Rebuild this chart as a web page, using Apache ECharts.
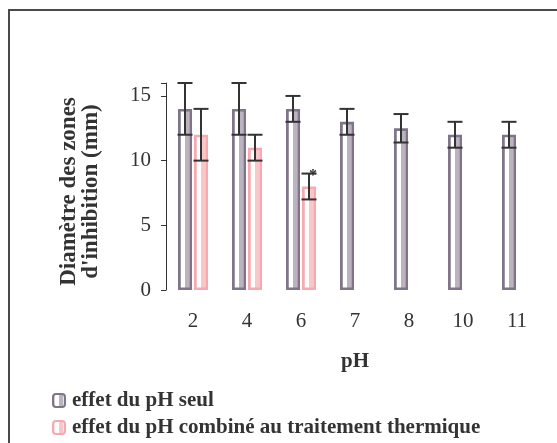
<!DOCTYPE html>
<html>
<head>
<meta charset="utf-8">
<script src="https://cdn.jsdelivr.net/npm/echarts@6/dist/echarts.min.js"></script>
<style>html,body{margin:0;padding:0;background:#fff;}#c{width:557px;height:443px;}</style>
</head>
<body>
<div id="c"></div>
<script>
var categories = ['2', '4', '6', '7', '8', '10', '11'];
var phAlone = [14, 14, 14, 13, 12.5, 12, 12];
var phAloneErr = [2, 2, 1, 1, 1.1, 1, 1];
var phHeat = [12, 11, 8, null, null, null, null];
var phHeatErr = [2, 1, 1, null, null, null, null];
var phHeatMark = ['', '', '*', '', '', '', ''];
var seriesNames = ['effet du pH seul', 'effet du pH combiné au traitement thermique'];
var yTicks = [0, 5, 10, 15];

var serif = '"Liberation Serif", "Times New Roman", serif';

function stripe(c1, c2, c3) {
  return {
    type: 'linear', x: 0, y: 0, x2: 1, y2: 0,
    colorStops: [
      {offset: 0, color: c1}, {offset: 0.22, color: c1},
      {offset: 0.22, color: '#ffffff'}, {offset: 0.5, color: '#ffffff'},
      {offset: 0.5, color: c2}, {offset: 0.78, color: c2},
      {offset: 0.78, color: c3}, {offset: 1, color: c3}
    ]
  };
}

function errData(vals, errs, marks) {
  var out = [];
  for (var i = 0; i < vals.length; i++) {
    if (vals[i] == null) continue;
    out.push([i, vals[i], errs[i], marks ? marks[i] : '']);
  }
  return out;
}

function errRender(offset) {
  return function (params, api) {
    var i = api.value(0), v = api.value(1), e = api.value(2);
    var hi = api.coord([i, v + e]);
    var lo = api.coord([i, v - e]);
    var x = hi[0] + offset;
    var cap = 7.5;
    var st = {stroke: '#333', lineWidth: 2};
    var children = [
      {type: 'line', shape: {x1: x, y1: hi[1], x2: x, y2: lo[1]}, style: st},
      {type: 'line', shape: {x1: x - cap, y1: hi[1], x2: x + cap, y2: hi[1]}, style: st},
      {type: 'line', shape: {x1: x - cap, y1: lo[1], x2: x + cap, y2: lo[1]}, style: st}
    ];
    var mark = api.value(3);
    if (mark) {
      children.push({type: 'text', x: x + 4, y: hi[1] + 2,
        style: {text: mark, font: 'bold 16px ' + serif, fill: '#333', align: 'center', verticalAlign: 'middle'}});
    }
    return {type: 'group', children: children};
  };
}

var legendText = {fontFamily: serif, fontWeight: 'bold', fontSize: 21, color: '#333', padding: [0, 0, 0, 2]};

var chart = echarts.init(document.getElementById('c'));
chart.setOption({
  animation: false,
  backgroundColor: '#fff',
  graphic: [{
    type: 'rect', shape: {x: 9, y: 10, width: 700, height: 600},
    style: {fill: 'none', stroke: '#4a4a4a', lineWidth: 2}, z: 100
  }],
  grid: {left: 166, right: 13, top: 83, bottom: 153},
  legend: [
    {left: 52, top: 390, itemWidth: 12, itemHeight: 13, padding: 0, itemGap: 0,
      data: [seriesNames[0]], textStyle: legendText},
    {left: 52, top: 417, itemWidth: 12, itemHeight: 13, padding: 0, itemGap: 0,
      data: [seriesNames[1]], textStyle: legendText}
  ],
  xAxis: {
    type: 'category', data: categories,
    name: 'pH', nameLocation: 'middle', nameGap: 61,
    nameTextStyle: {fontFamily: serif, fontWeight: 'bold', fontSize: 21, color: '#333'},
    axisLine: {show: false}, axisTick: {show: false},
    axisLabel: {fontFamily: serif, fontSize: 21, color: '#333', margin: 21}
  },
  yAxis: {
    type: 'value', min: 0, max: 16, interval: 5,
    name: 'Diamètre des zones\nd\'inhibition (mm)', nameLocation: 'middle', nameGap: 64, nameRotate: 90,
    nameTextStyle: {fontFamily: serif, fontWeight: 'bold', fontSize: 23, color: '#333', lineHeight: 22,
      padding: [0, 10, 0, 0]},
    splitLine: {show: false},
    axisLine: {show: true, lineStyle: {color: '#333', width: 1}},
    axisTick: {show: true, length: 5, lineStyle: {color: '#333'}},
    axisLabel: {fontFamily: serif, fontSize: 21, color: '#333', margin: 15,
      formatter: function (v) { return yTicks.indexOf(v) >= 0 ? String(v) : ''; }}
  },
  series: [
    {
      name: seriesNames[0], type: 'bar', data: phAlone, barWidth: 14, barGap: '14%',
      itemStyle: {color: stripe('#d3ccd6', '#bcb3c0', '#e6e2e8'), borderColor: '#7f7488', borderWidth: 2.6}
    },
    {
      name: seriesNames[1], type: 'bar', data: phHeat, barWidth: 14, barGap: '14%',
      itemStyle: {color: stripe('#fde1e3', '#f9c6ca', '#fde9ea'), borderColor: '#f6a9af', borderWidth: 2.6}
    },
    {
      type: 'custom', name: 'errA', data: errData(phAlone, phAloneErr), renderItem: errRender(-8),
      encode: {x: 0, y: 1}, z: 5, silent: true
    },
    {
      type: 'custom', name: 'errB', data: errData(phHeat, phHeatErr, phHeatMark), renderItem: errRender(8),
      encode: {x: 0, y: 1}, z: 5, silent: true
    }
  ]
});
</script>
</body>
</html>
